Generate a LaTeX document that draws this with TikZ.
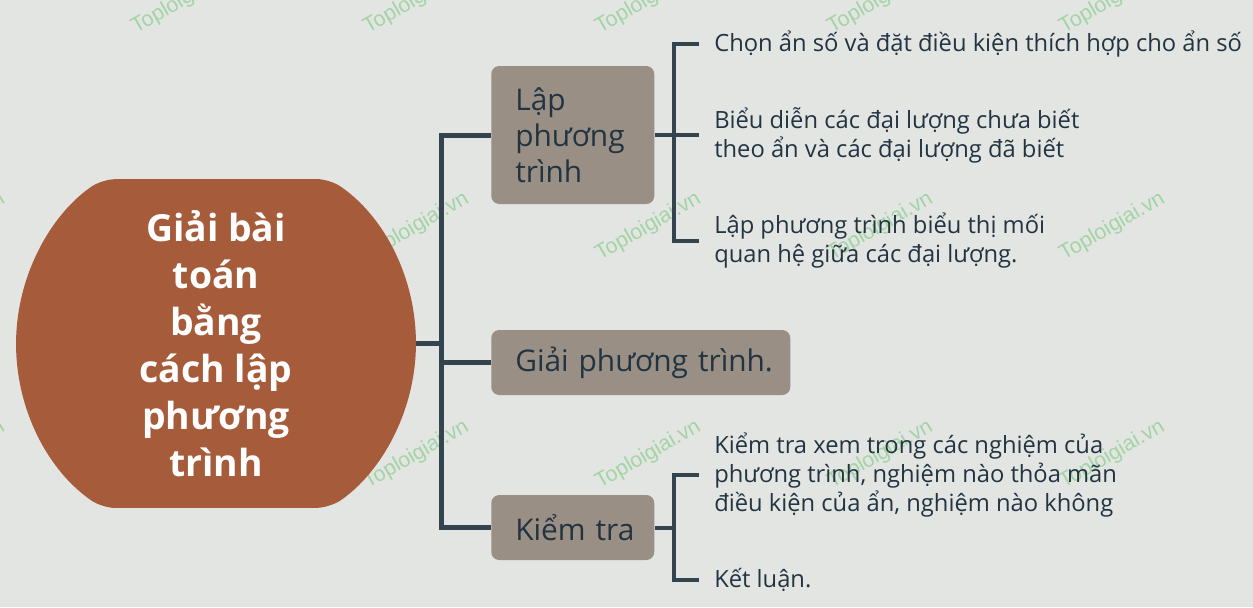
\documentclass[tikz,border=0pt]{standalone}
\usepackage{fontspec}
\setmainfont{Open Sans}
\newfontfamily\wmfont{Liberation Sans}
\definecolor{bgc}{HTML}{E3E5E2}
\definecolor{rootc}{HTML}{A65B3A}
\definecolor{boxc}{HTML}{998F84}
\definecolor{linec}{HTML}{34444F}
\definecolor{txtc}{HTML}{223442}
\definecolor{wmc}{HTML}{A3D4A6}
\tikzset{
  wm/.style={font=\wmfont\fontsize{16pt}{18pt}\selectfont, text=wmc, rotate=30, anchor=base west, inner sep=0pt},
  roottext/.style={circle, minimum size=300pt, font=\fontsize{28pt}{35.25pt}\selectfont\bfseries, text=white, align=center, inner sep=0pt},
  branch/.style={fill=boxc, rounded corners=6pt, inner xsep=18pt, inner ysep=0pt, text=txtc, align=left, anchor=west,
    font=\fontsize{22.4pt}{27pt}\selectfont},
  leaf/.style={anchor=west, inner sep=0pt, text=txtc, align=left, font=\fontsize{17.8pt}{21.75pt}\selectfont},
  trunk/.style={draw=linec, line width=3.75pt},
  brk/.style={draw=linec, line width=3pt}
}
\begin{document}
\begin{tikzpicture}[x=0.75pt,y=-0.75pt]
\useasboundingbox (0,0) rectangle (1253,607);
\fill[bgc] (0,0) rectangle (1253,607);
% watermarks
\begin{scope}
\clip (0,0) rectangle (1253,607);
\foreach \r/\yy in {1/34,2/261,3/489}{
  \foreach \c/\xx in {0/-96,1/136,2/368,3/600,4/832,5/1064}{
    \node[wm, name=wm\r\c] at (\xx,\yy) {Toploigiai.vn};
  }
}
\end{scope}
% root shape
\fill[rootc, rounded corners=10pt] (329.8,179) arc[start angle=-55.3, end angle=55.3, radius=200] -- (102.2,508) arc[start angle=124.7, end angle=235.3, radius=200] -- cycle;
\node[roottext] (root) at (216,343.5) {Giải bài\\toán\\bằng\\cách lập\\phương\\trình};
% branches
\node[branch, minimum width=122.25pt, minimum height=103.5pt, text width=86.25pt] (b1) at (491,135) {\mbox{Lập}\\\mbox{phương}\\\mbox{trình}};
\node[branch, minimum width=224.25pt, minimum height=48.75pt, text width=188.25pt] (b2) at (491,362.5) {\mbox{Giải phương trình.}};
\node[branch, minimum width=122.25pt, minimum height=48.75pt, text width=86.25pt] (b3) at (491,527.5) {\mbox{Kiểm tra}};
\coordinate (j0) at (441,343.5);
\draw[trunk] (root.east) -- (j0);
\draw[trunk] (b1.west) -- (b1.west -| j0) -- (b3.west -| j0) -- (b3.west);
\draw[trunk] (b2.west) -- (b2.west -| j0);
% leaves
\node[leaf] (l1) at (714,44) {Chọn ẩn số và đặt điều kiện thích hợp cho ẩn số};
\node[leaf] (l2) at (714,135) {Biểu diễn các đại lượng chưa biết\\theo ẩn và các đại lượng đã biết};
\node[leaf] (l3) at (714,240.5) {Lập phương trình biểu thị mối\\quan hệ giữa các đại lượng.};
\node[leaf] (l4) at (714,475) {Kiểm tra xem trong các nghiệm của\\phương trình, nghiệm nào thỏa mãn\\điều kiện của ẩn, nghiệm nào không};
\node[leaf] (l5) at (714,580) {Kết luận.};
\coordinate (k1) at (674,135);
\coordinate (k2) at (674,527.5);
\draw[brk] ([xshift=-11.25pt]l1.west) -- (l1.west -| k1) -- (l3.west -| k1) -- ([xshift=-11.25pt]l3.west);
\draw[brk] (b1.east) -- ([xshift=-11.25pt]l2.west);
\draw[brk] ([xshift=-11.25pt]l4.west) -- (l4.west -| k2) -- (l5.west -| k2) -- ([xshift=-11.25pt]l5.west);
\draw[brk] (b3.east) -- (k2);
\end{tikzpicture}
\end{document}
